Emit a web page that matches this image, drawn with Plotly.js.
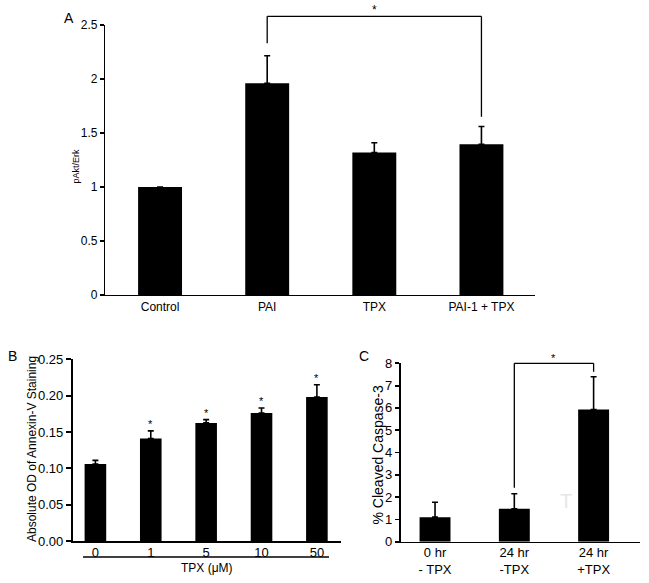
<!DOCTYPE html>
<html>
<head>
<meta charset="utf-8">
<script src="https://cdn.plot.ly/plotly-3.0.1.min.js"></script>
<style>
  html, body { margin: 0; padding: 0; background: #fff; }
  #plot { width: 649px; height: 583px; }
</style>
</head>
<body>
<div id="plot"></div>
<script>
// Panel A: pAkt/Erk
var groupsA = ["Control", "PAI", "TPX", "PAI-1 + TPX"];
var ratioA = [1.0, 1.96, 1.32, 1.395];
var errA = [0, 0.255, 0.09, 0.165];

// Panel B: Annexin-V staining vs TPX dose
var doseB = ["0", "1", "5", "10", "50"];
var odB = [0.106, 0.141, 0.1625, 0.176, 0.198];
var errB = [0.005, 0.0105, 0.0045, 0.007, 0.017];
var starB = [false, true, true, true, true];

// Panel C: cleaved caspase-3
var groupsC = ["0 hr<br>- TPX", "24 hr<br>-TPX", "24 hr<br>+TPX"];
var caspC = [1.1, 1.48, 5.93];
var errC = [0.67, 0.67, 1.47];

var FONT = "Liberation Sans, Arial, sans-serif";
var W = 649, H = 583;
function px(x) { return x / W; }
function py(y) { return 1 - y / H; }

function zeros(n) { return new Array(n).fill(0); }

function barTrace(x, y, err, xa, ya, width) {
  return {
    type: "bar",
    x: x, y: y,
    xaxis: xa, yaxis: ya,
    width: width,
    marker: { color: "#000", line: { width: 0 } },
    error_y: {
      type: "data", symmetric: false,
      array: err, arrayminus: zeros(err.length),
      color: "#000", thickness: 1.6, width: 3
    },
    hoverinfo: "skip",
    showlegend: false
  };
}

var data = [
  barTrace(groupsA, ratioA, errA, "x", "y", 0.41),
  barTrace(doseB, odB, errB, "x2", "y2", 0.39),
  barTrace(groupsC, caspC, errC, "x3", "y3", 0.39)
];

// significance brackets (from, to, top, leg ends)
var bracketA = { from: 1, to: 3, top: 2.58, ends: [2.33, 1.65], max: 2.5, xr: "x", yr: "y domain" };
var bracketC = { from: 1, to: 2, top: 8.0, ends: [2.42, 7.62], max: 8, xr: "x3", yr: "y3 domain" };

var shapes = [];
var annotations = [];

function addBracket(b, starSize, shift) {
  var line = { color: "#000", width: 1.3 };
  shapes.push({ type: "line", xref: b.xr, yref: b.yr, x0: b.from, x1: b.from,
    y0: b.ends[0] / b.max, y1: b.top / b.max, line: line });
  shapes.push({ type: "line", xref: b.xr, yref: b.yr, x0: b.from, x1: b.to,
    y0: b.top / b.max, y1: b.top / b.max, line: line });
  shapes.push({ type: "line", xref: b.xr, yref: b.yr, x0: b.to, x1: b.to,
    y0: b.ends[1] / b.max, y1: b.top / b.max, line: line });
  annotations.push({ xref: b.xr, yref: b.yr, x: (b.from + b.to) / 2, y: b.top / b.max,
    text: "*", showarrow: false, yanchor: "bottom", yshift: shift,
    font: { family: FONT, size: starSize, color: "#000" } });
}
addBracket(bracketA, 12, -3);
addBracket(bracketC, 11, -3);

// stars over B bars
doseB.forEach(function (d, i) {
  if (!starB[i]) return;
  annotations.push({ xref: "x2", yref: "y2", x: i, y: odB[i] + errB[i],
    text: "*", showarrow: false, yanchor: "bottom", yshift: -1,
    font: { family: FONT, size: 11, color: "#000" } });
});

// underline below B tick labels
shapes.push({ type: "line", xref: "paper", yref: "paper",
  x0: px(83), x1: px(329), y0: py(557), y1: py(557),
  line: { color: "#000", width: 1.3 } });

// faint ghost mark in C
annotations.push({ xref: "x3", yref: "y3", x: 1.65, y: 1.84, text: "T", showarrow: false,
  font: { family: FONT, size: 20, color: "#e6e6e6" } });

// titles and panel letters
function label(text, x, y, size, angle) {
  annotations.push({ xref: "paper", yref: "paper", x: px(x), y: py(y), text: text,
    showarrow: false, textangle: angle || 0, xanchor: "center", yanchor: "middle",
    font: { family: FONT, size: size, color: "#000" } });
}
label("A", 69, 18, 14);
label("B", 12.5, 356.5, 14);
label("C", 363.5, 356, 14);
label("pAkt/Erk", 75.5, 166, 9, -90);
label("Absolute OD of Annexin-V Staining", 32, 449, 12, -90);
label("% Cleaved Caspase-3", 377.5, 455, 14, -90);
label("TPX (\u03bcM)", 207, 568, 12);

function xAxis(domain, range, anchor, size, lw, standoff) {
  return {
    domain: domain, range: range, anchor: anchor, type: "category",
    showline: true, linecolor: "#000", linewidth: lw, ticks: "",
    ticklabelstandoff: standoff || 0,
    showgrid: false, zeroline: false, fixedrange: true,
    tickfont: { family: FONT, size: size, color: "#000" }
  };
}
function yAxis(domain, range, anchor, dtick, fmt, size, lw, tlen) {
  return {
    domain: domain, range: range, anchor: anchor,
    dtick: dtick, tick0: 0, tickformat: fmt,
    showline: true, linecolor: "#000", linewidth: lw,
    ticks: "outside", ticklen: tlen, tickwidth: lw, tickcolor: "#000",
    showgrid: false, zeroline: false, fixedrange: true,
    tickfont: { family: FONT, size: size, color: "#000" }
  };
}

var layout = {
  width: W, height: H,
  margin: { l: 0, r: 0, t: 0, b: 0 },
  paper_bgcolor: "#fff", plot_bgcolor: "#fff",
  showlegend: false,
  xaxis: xAxis([px(105), px(535)], [-0.514, 3.5], "y", 12, 1.3, 0),
  yaxis: yAxis([py(295), py(25)], [0, 2.5], "x", 0.5, "", 12, 1.2, 4),
  xaxis2: xAxis([px(72.7), px(340.7)], [-0.41, 4.43], "y2", 13, 1.6, -1),
  yaxis2: yAxis([py(541), py(359.3)], [0, 0.25], "x2", 0.05, ".2f", 13, 1.8, 5),
  xaxis3: xAxis([px(400.7), px(640)], [-0.433, 2.585], "y3", 13, 1.6, -2),
  yaxis3: yAxis([py(541.7), py(363.3)], [0, 8], "x3", 1, "", 13, 1.8, 4),
  shapes: shapes,
  annotations: annotations
};

Plotly.newPlot("plot", data, layout, { displayModeBar: false, staticPlot: true });
</script>
</body>
</html>
